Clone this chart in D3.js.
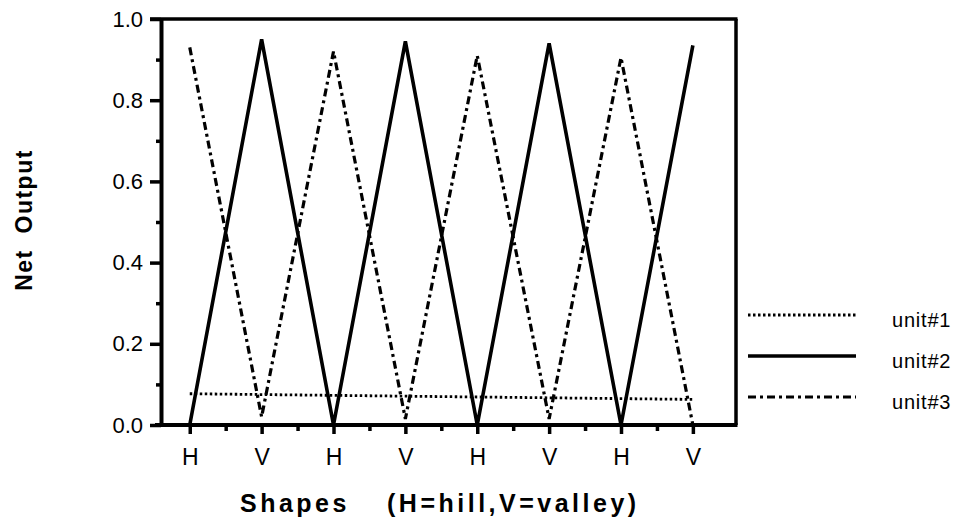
<!DOCTYPE html>
<html lang="en">
<head>
    <meta charset="UTF-8">
    <script src="https://d3js.org/d3.v7.min.js"></script>
    <title>Net Output vs Shapes</title>
    <style>
        body { margin:0; background:#fff; }
        text { font-family: "Liberation Sans", Arial, sans-serif; fill:#000; }
        .axis path, .axis line { stroke:#000; }
    </style>
</head>
<body>
    <script>
        // shapes along the x axis (H=hill, V=valley)
        var shapes = ["H","V","H","V","H","V","H","V"];
        var yTicks = [0, 0.2, 0.4, 0.6, 0.8, 1.0];
        var seriesNames = ["unit#1","unit#2","unit#3"];
        var unit1 = [0.077, 0.075, 0.073, 0.071, 0.069, 0.067, 0.065, 0.063];
        var unit2 = [0.0, 0.95, 0.0, 0.945, 0.0, 0.94, 0.0, 0.935];
        var unit3 = [0.93, 0.02, 0.92, 0.015, 0.91, 0.015, 0.905, 0.0];

        var width = 963, height = 526;
        var pLeft = 161, pRight = 736, pTop = 19, pBottom = 425;

        var xscale = d3.scaleLinear().domain([-0.4, 7.6]).range([pLeft, pRight]);
        var yscale = d3.scaleLinear().domain([0, 1]).range([pBottom, pTop]);

        var svg = d3.select("body").append("svg").attr("width", width).attr("height", height);

        // frame (top and right)
        svg.append("line").attr("x1", pLeft - 11).attr("x2", pRight + 1.5).attr("y1", pTop).attr("y2", pTop)
            .style("stroke", "#000").style("stroke-width", 3.5);
        svg.append("line").attr("x1", pRight).attr("x2", pRight).attr("y1", pTop).attr("y2", pBottom)
            .style("stroke", "#000").style("stroke-width", 3.5);

        // y axis, minor then major
        svg.append("g").attr("class", "axis").attr("transform", "translate(" + pLeft + ",0)")
            .call(d3.axisLeft(yscale).tickValues([0.1, 0.3, 0.5, 0.7, 0.9]).tickSize(5).tickFormat(""))
            .call(g => g.selectAll("line").style("stroke-width", 3.5))
            .call(g => g.select(".domain").remove());
        var yaxis = svg.append("g").attr("class", "axis").attr("transform", "translate(" + pLeft + ",0)")
            .call(d3.axisLeft(yscale).tickValues(yTicks).tickSize(11).tickSizeOuter(0).tickPadding(7).tickFormat(d3.format(".1f")));
        yaxis.select(".domain").style("stroke-width", 4);
        yaxis.selectAll("line").style("stroke-width", 3.5);
        yaxis.selectAll("text").style("font-size", "22px");

        // x axis, minor then major
        svg.append("g").attr("class", "axis").attr("transform", "translate(0," + pBottom + ")")
            .call(d3.axisBottom(xscale).tickValues(d3.range(0.5, 7, 1)).tickSize(6).tickFormat(""))
            .call(g => g.selectAll("line").style("stroke-width", 3.5))
            .call(g => g.select(".domain").remove());
        var xaxis = svg.append("g").attr("class", "axis").attr("transform", "translate(0," + pBottom + ")")
            .call(d3.axisBottom(xscale).tickValues(d3.range(shapes.length)).tickSize(9).tickSizeOuter(0)
                .tickPadding(15).tickFormat(i => shapes[i]));
        xaxis.select(".domain").attr("d", "M" + (pLeft - 6) + ",0H" + (pRight + 1.5)).style("stroke-width", 4);
        xaxis.selectAll("line").style("stroke-width", 3.5);
        xaxis.selectAll("text").style("font-size", "23px");

        // titles
        svg.append("text").attr("x", 240).attr("y", 512)
            .style("font-size", "25px").style("font-weight", "bold").style("letter-spacing", "3.5px")
            .text("Shapes");
        svg.append("text").attr("x", 387).attr("y", 512)
            .style("font-size", "25px").style("font-weight", "bold").style("letter-spacing", "3.5px")
            .text("(H=hill,V=valley)");
        svg.append("text").attr("transform", "translate(32,220) rotate(-90)").attr("text-anchor", "middle")
            .style("font-size", "23px").style("font-weight", "bold").style("letter-spacing", "1.5px")
            .style("white-space", "pre").text("Net  Output");

        // lines
        var styles = [
            {dash: "2.5,2.5", w: 2.8},
            {dash: null, w: 3.6},
            {dash: "8,4,3,4", w: 3.2}
        ];
        var series = [unit1, unit2, unit3];
        var line = d3.line().x((d, i) => xscale(i)).y(d => yscale(d));

        series.forEach(function (s, k) {
            svg.append("path").attr("d", line(s))
                .style("fill", "none").style("stroke", "#000")
                .style("stroke-width", styles[k].w)
                .style("stroke-dasharray", styles[k].dash);
        });

        // legend
        var legendY = [315, 356, 397];
        seriesNames.forEach(function (name, k) {
            svg.append("line").attr("x1", 748).attr("x2", 856).attr("y1", legendY[k]).attr("y2", legendY[k])
                .style("stroke", "#000").style("stroke-width", styles[k].w)
                .style("stroke-dasharray", styles[k].dash);
            svg.append("text").attr("x", 892).attr("y", legendY[k] + 12)
                .style("font-size", "20px").style("letter-spacing", "0.8px").text(name);
        });
    </script>
</body>
</html>
